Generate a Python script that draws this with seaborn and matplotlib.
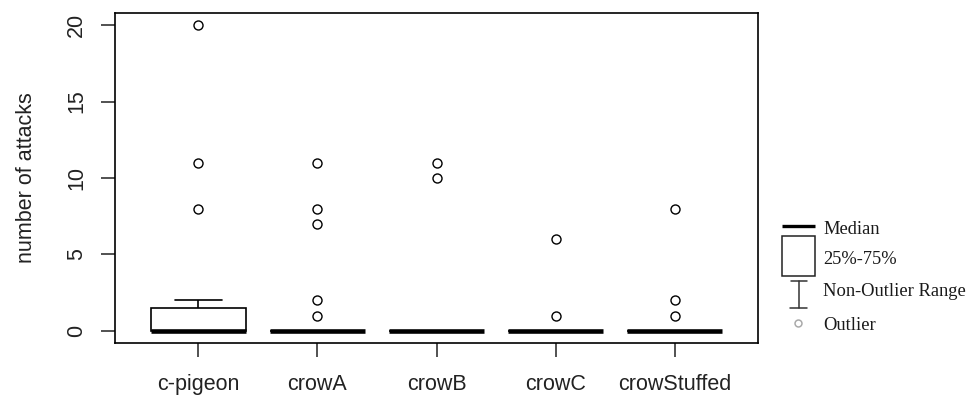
import matplotlib
matplotlib.use('Agg')
import matplotlib.pyplot as plt
from matplotlib.patches import Rectangle
import seaborn as sns
import numpy as np
import pandas as pd

# groups and attack counts (zeros fill the collapsed boxes)
groups = ['c-pigeon', 'crowA', 'crowB', 'crowC', 'crowStuffed']
c_pigeon = [0] * 16 + [1, 2, 2, 2, 8, 11, 20]
crow_a = [0] * 18 + [1, 2, 7, 8, 11]
crow_b = [0] * 21 + [10, 11]
crow_c = [0] * 21 + [1, 6]
crow_stuffed = [0] * 20 + [1, 2, 8]
y_ticks = [0, 5, 10, 15, 20]

values = [c_pigeon, crow_a, crow_b, crow_c, crow_stuffed]
df = pd.DataFrame({
    'group': np.repeat(groups, [len(v) for v in values]),
    'attacks': np.concatenate(values),
})

sns.set_theme(style='ticks')
plt.rcParams['font.family'] = ['Liberation Sans', 'DejaVu Sans']

W, H = 971, 396
fig = plt.figure(figsize=(W / 100, H / 100), dpi=100)
ax = fig.add_axes([115 / W, 1 - 343 / H, 643 / W, 330 / H])

sns.boxplot(data=df, x='group', y='attacks', order=groups, width=0.8, whis=1.5,
            color='white', linecolor='black', linewidth=1.2, fliersize=6.5,
            medianprops=dict(linewidth=3.3, color='black', solid_capstyle='butt'),
            flierprops=dict(marker='o', markerfacecolor='none',
                            markeredgecolor='black', markeredgewidth=1.0),
            ax=ax)

ax.set_xlim(-0.7, 4.7)
ax.set_ylim(-0.8, 20.8)
ax.set_yticks(y_ticks)
ax.set_xlabel('')
ax.set_ylabel('')
for s in ax.spines.values():
    s.set_visible(True)
    s.set_color('black')
    s.set_linewidth(1.2)
ax.tick_params(axis='both', length=10, width=1.1, color='#222222', labelsize=15.5,
               labelcolor='#222222')
ax.tick_params(axis='x', pad=12)
ax.tick_params(axis='y', pad=10)
plt.setp(ax.get_yticklabels(), rotation=90, va='center')

fig.text(27 / W, 1 - 178 / H, 'number of attacks', rotation=90, ha='center',
         va='center', fontsize=15.5, color='#222222')

# legend drawn on an overlay in pixel space
lax = fig.add_axes([0, 0, 1, 1])
lax.set_xlim(0, W)
lax.set_ylim(H, 0)
lax.axis('off')
lax.plot([782, 815], [226, 226], color='black', lw=2.4, solid_capstyle='butt')
lax.add_patch(Rectangle((782, 236), 33, 40, fill=False, lw=1.1, edgecolor='#222222'))
lax.plot([799, 799], [281, 308], color='#333333', lw=1.1)
lax.plot([791, 807], [281, 281], color='#333333', lw=1.1)
lax.plot([790, 807], [308, 308], color='#333333', lw=1.1)
lax.plot([798], [323], marker='o', markersize=5, markerfacecolor='none',
         markeredgecolor='#aaaaaa', markeredgewidth=1.1)

serif = ['Liberation Serif', 'DejaVu Serif']
for label, yy in [('Median', 230), ('25%-75%', 260), ('Non-Outlier Range', 291),
                  ('Outlier', 325)]:
    lax.text(823, yy, label, ha='left', va='center', fontsize=13.3,
             family=serif, color='#1a1a1a')

plt.savefig('out.png', dpi=100)
